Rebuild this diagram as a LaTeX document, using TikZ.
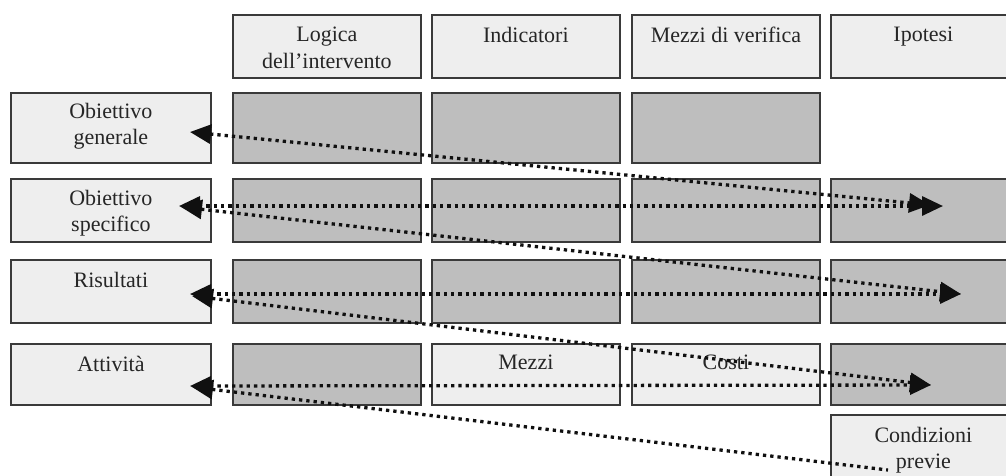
\documentclass[tikz,border=0pt]{standalone}
\usepackage{fontspec}
\setmainfont{Liberation Serif}
\usetikzlibrary{arrows.meta}
\definecolor{cellpale}{HTML}{EEEEEE}
\definecolor{celldark}{HTML}{BEBEBE}
\definecolor{cellrule}{HTML}{3A3A3A}
\definecolor{dotink}{HTML}{101010}
\tikzset{
  cell/.style={draw=cellrule, line width=1.8pt, inner sep=0pt, anchor=north west},
  pale/.style={cell, fill=cellpale},
  dark/.style={cell, fill=celldark},
  lbl/.style={anchor=north, inner sep=0pt, align=center, text=black!85,
              font=\fontsize{22}{26.5}\selectfont},
  link/.style={draw=dotink, line width=3.3pt, line cap=butt,
               dash pattern=on 3.3pt off 4pt,
               arrows={Triangle[length=21pt,width=19pt]-Triangle[length=21pt,width=19pt]}},
  linkleft/.style={link, arrows={Triangle[length=21pt,width=19pt]-}},
}
\newcommand{\cellbox}[6]{% style, name, x1, y1, x2, y2
  \node[#1, minimum width={#5-#3}, minimum height={#6-#4}] (#2) at (#3,#4) {};}
\begin{document}
\begin{tikzpicture}[x=1pt, y=-1pt]
  \useasboundingbox (0,0) rectangle (1006,475);
  \clip (0,0) rectangle (1006,475);

  % header row
  \cellbox{pale}{hlog}{232}{14}{420}{77}
  \cellbox{pale}{hind}{431}{14}{619}{77}
  \cellbox{pale}{hmez}{631}{14}{819}{77}
  \cellbox{pale}{hipo}{830}{14}{1015}{77}
  \node[lbl] at ([yshift=-13pt]hlog.north) {Logica\\dell’intervento};
  \node[lbl] at ([yshift=-13pt]hind.north) {Indicatori};
  \node[lbl] at ([yshift=-13pt]hmez.north) {Mezzi di verifica};
  \node[lbl] at ([yshift=-13pt]hipo.north) {Ipotesi};

  % row 1: overall objective
  \cellbox{pale}{gen}{10}{92}{210}{162}
  \cellbox{dark}{gen1}{232}{92}{420}{162}
  \cellbox{dark}{gen2}{431}{92}{619}{162}
  \cellbox{dark}{gen3}{631}{92}{819}{162}
  \node[lbl] at ([yshift=-11pt]gen.north) {Obiettivo\\generale};

  % row 2: specific objective
  \cellbox{pale}{spe}{10}{178}{210}{241}
  \cellbox{dark}{spe1}{232}{178}{420}{241}
  \cellbox{dark}{spe2}{431}{178}{619}{241}
  \cellbox{dark}{spe3}{631}{178}{819}{241}
  \cellbox{dark}{spe4}{830}{178}{1015}{241}
  \begin{scope}
    \clip (10,178) rectangle (210,240);
    \node[lbl] at ([yshift=-12pt]spe.north) {Obiettivo\\specifico};
  \end{scope}

  % row 3: results
  \cellbox{pale}{ris}{10}{259}{210}{322}
  \cellbox{dark}{ris1}{232}{259}{420}{322}
  \cellbox{dark}{ris2}{431}{259}{619}{322}
  \cellbox{dark}{ris3}{631}{259}{819}{322}
  \cellbox{dark}{ris4}{830}{259}{1015}{322}
  \node[lbl] at ([yshift=-13pt]ris.north) {Risultati};

  % row 4: activities
  \cellbox{pale}{att}{10}{343}{210}{404}
  \cellbox{dark}{att1}{232}{343}{420}{404}
  \cellbox{pale}{att2}{431}{343}{619}{404}
  \cellbox{pale}{att3}{631}{343}{819}{404}
  \cellbox{dark}{att4}{830}{343}{1015}{404}
  \node[lbl] at ([yshift=-13pt]att.north) {Attività};
  \node[lbl] at ([yshift=-12pt]att2.north) {Mezzi};
  \node[lbl] at ([yshift=-12pt]att3.north) {Costi};

  % preconditions
  \cellbox{pale}{pre}{830}{414}{1015}{495}
  \node[lbl] at ([yshift=-13pt]pre.north) {Condizioni\\previe};

  % end points of the dotted links
  \coordinate (gL)  at (190,132);
  \coordinate (sL)  at (179,206);
  \coordinate (sL2) at (181,207);
  \coordinate (rL)  at (190,294);
  \coordinate (rL2) at (192,296);
  \coordinate (aL)  at (190,386);
  \coordinate (aL2) at (192,387);
  \coordinate (sR1) at (930,205);
  \coordinate (sR2) at (943,206);
  \coordinate (rR)  at (961,294);
  \coordinate (aR)  at (931,385);
  \coordinate (pE)  at (888,470);

  % vertical logic links
  \draw[link] (sL) -- (sR2);
  \draw[link] (gL) -- (sR1);
  \draw[link] (rL) -- (rR);
  \draw[link] (sL2) -- (rR);
  \draw[link] (aL) -- (aR);
  \draw[link] (rL2) -- (aR);
  \draw[linkleft] (aL2) -- (pE);
\end{tikzpicture}
\end{document}
